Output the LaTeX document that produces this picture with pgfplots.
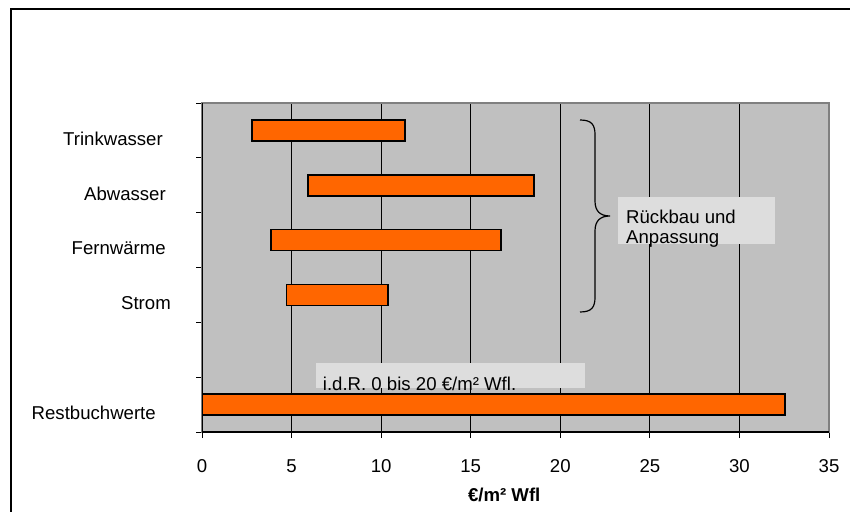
\documentclass[border=0pt]{standalone}
\usepackage{pgfplots}
\pgfplotsset{compat=1.18}
\usepackage{fontspec}
\setmainfont{Liberation Sans}

\definecolor{bggray}{HTML}{C0C0C0}
\definecolor{barorange}{HTML}{FF6600}
\definecolor{boxgray}{HTML}{DDDDDD}
\definecolor{framegray}{HTML}{808080}

\begin{document}
\begin{tikzpicture}[x=1pt,y=1pt,font=\fontsize{18.6}{20}\selectfont]
\useasboundingbox (0,0) rectangle (850,511);
% outer frame
\draw[line width=1.3pt] (11,-2) -- (11,502) -- (852,502);
\begin{axis}[
  at={(202pt,79pt)}, anchor=south west,
  scale only axis, width=627pt, height=329pt,
  xmin=0, xmax=35, ymin=0, ymax=6,
  xtick={0,5,...,35},
  ytick={0,1,...,6}, yticklabels={},
  extra y ticks={0.5,2.5,3.5,4.5,5.5},
  extra y tick labels={Restbuchwerte\hspace*{10pt}, Strom\hspace*{-5pt}, Fernwärme, Abwasser, Trinkwasser\hspace*{3pt}},
  extra y tick style={major tick style={draw=none},
    yticklabel style={xshift=-26.7pt, yshift=-8.5pt}},
  xmajorgrids,
  grid style={black, line width=0.9pt},
  tick align=outside, major tick length=6pt,
  xtick pos=bottom, ytick pos=left,
  tick style={black, line width=1pt},
  axis line style={draw=framegray, line width=1.5pt},
  axis background/.style={fill=bggray},
  /pgf/number format/assume math mode=true,
  xticklabel style={yshift=-18pt},
  xlabel={\textbf{€/m² Wfl}},
  xlabel style={at={(axis description cs:0.482,0)}, anchor=north, yshift=-52.7pt},
  xbar stacked, bar width=21pt,
]
% start of each range (invisible offset)
\addplot[draw=none, fill=none] coordinates {(2.77,5.5) (5.93,4.5) (3.85,3.5) (4.72,2.5) (0,0.5)};
% length of each range
\addplot[fill=barorange, draw=black, line width=1.8pt] coordinates {(8.58,5.5) (12.62,4.5) (12.82,3.5) (5.67,2.5) (32.55,0.5)};
% dark left and bottom axis lines
\draw[black, line width=1.5pt] (rel axis cs:0,1) -- (rel axis cs:0,0) -- (rel axis cs:1,0);
\end{axis}
% annotation: brace and label
\draw[line width=1.2pt] (580,391) .. controls (592,391) and (595,386) .. (595,376)
  -- (595,310) .. controls (595,300) and (600,295) .. (610,295)
  .. controls (600,295) and (595,290) .. (595,280)
  -- (595,214) .. controls (595,204) and (592,199) .. (580,199);
\fill[boxgray] (618,267) rectangle (775,314);
\node[anchor=base west, inner sep=0] at (626,287) {Rückbau und};
\node[anchor=base west, inner sep=0] at (626,267) {Anpassung};
% annotation: usual range
\fill[boxgray] (316,123) rectangle (585,148);
\node[anchor=base west, inner sep=0] at (322.7,121) {i.d.R. 0 bis 20 €/m² Wfl.};
\end{tikzpicture}
\end{document}
